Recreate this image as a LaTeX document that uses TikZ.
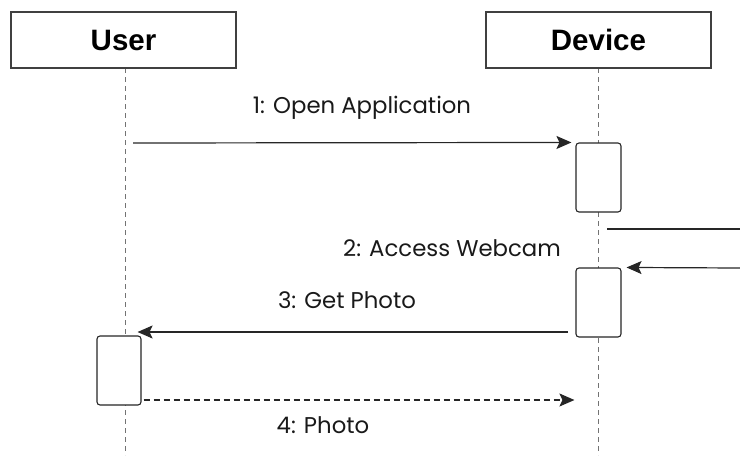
\documentclass[tikz,border=0pt]{standalone}
\usepackage{fontspec}
\setmainfont{Poppins}
\newfontfamily\headfont{Liberation Sans}
\usetikzlibrary{
  arrows.meta
}

\tikzset{
  actor/.style={draw=black!75, line width=1.3pt, fill=white,
      minimum width=225pt, minimum height=56pt, inner sep=0pt,
      font=\headfont\bfseries\fontsize{29.5}{30}\selectfont},
  actbox/.style={draw=black!85, line width=1.1pt, fill=white, rounded corners=3pt,
      minimum width=45pt, minimum height=69pt, inner sep=0pt},
  lifeline/.style={dashed, black!55, line width=0.8pt, dash pattern=on 5pt off 4pt},
  msg/.style={line width=1.2pt, black!85, -{Stealth[length=15pt,width=13pt,inset=3pt]}},
  msglabel/.style={font=\fontsize{22.8}{24}\selectfont, text=black!90, inner sep=0pt}
}

\begin{document}
\begin{tikzpicture}[x=1pt, y=-1pt]
  \useasboundingbox (0,0) rectangle (740,461);

  % lifelines
  \coordinate (uend) at (125,455);
  \coordinate (dend) at (598.5,455);
  \draw[lifeline] (125,68) -- (uend);
  \draw[lifeline] (598.5,68) -- (dend);

  \node[actor] (user) at (123.5,40) {User};
  \node[actor] (device) at (598.5,40) {Device};

  % activations
  \node[actbox] (act1) at (598.5,177.5) {};
  \node[actbox] (act2) at (598.5,302.5) {};
  \node[actbox, minimum width=44pt] (act3) at (119,370.5) {};

  % messages
  \coordinate (m1) at (133,143);
  \draw[msg, shorten >=4pt] (m1) -- (act1.north west);

  \coordinate (w1) at (607,229);
  \coordinate (w2) at (740,229);
  \coordinate (w3) at (740,268);
  \draw[line width=1.2pt, black!85] (w1) -- (w2);
  \draw[msg, shorten >=5pt] (w3) -- (act2.north east);

  \coordinate (m3) at (568,332);
  \draw[msg, shorten >=-4pt] (m3) -- (act3.east |- m3);

  \draw[msg, dashed, dash pattern=on 6pt off 4pt, shorten <=2pt, shorten >=1pt]
    (act3.east |- 0,400) -- (act1.west |- 0,400);

  \begin{scope}[msglabel]
    \node (l1) at (362,108) {1: Open Application};
    \node (l2) at (452,248) {2: Access Webcam};
    \node (l3) at (347,300) {3: Get Photo};
    \node (l4) at (323,425) {4: Photo};
  \end{scope}
\end{tikzpicture}
\end{document}
